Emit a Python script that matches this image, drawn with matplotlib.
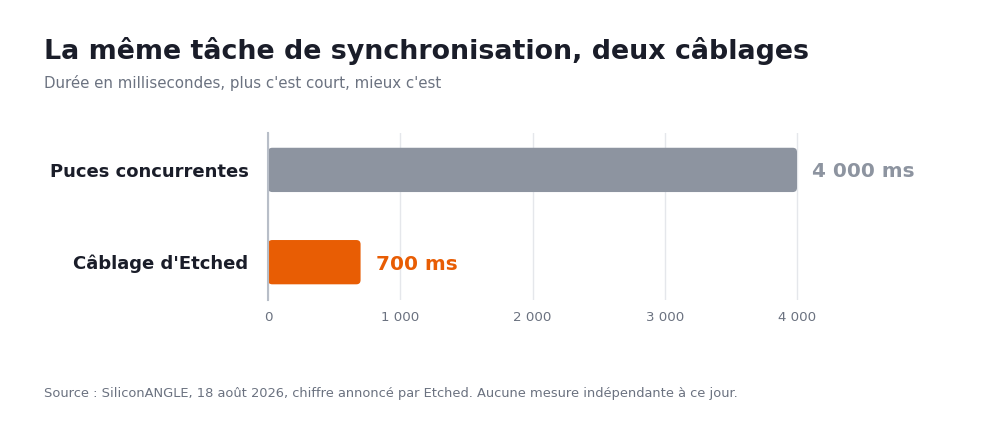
import matplotlib
matplotlib.use("Agg")
import matplotlib.pyplot as plt
from matplotlib.patches import FancyBboxPatch
from matplotlib.ticker import FuncFormatter

categories = ["Câblage d'Etched", "Puces concurrentes"]
durations_ms = [700, 4000]
bar_colors = ["#e85d04", "#8d94a0"]
value_labels = ["700 ms", "4 000 ms"]
xticks = [0, 1000, 2000, 3000, 4000]

fig = plt.figure(figsize=(10, 4.3), dpi=100)
ax = fig.add_axes([0.268, 1 - 300 / 430, 0.6348, 167 / 430])
ax.set_xlim(0, 4800)
ax.set_ylim(-0.41, 1.40)

# corner radius ~4 px, converted to data units on both axes
bar_h = 0.48
aspect = (1.81 / 167) / (4800 / 634.8)
for i, (v, c) in enumerate(zip(durations_ms, bar_colors)):
    patch = FancyBboxPatch((0, i - bar_h / 2), v, bar_h,
                           boxstyle="round,pad=0,rounding_size=32",
                           mutation_aspect=aspect,
                           facecolor=c, edgecolor="none", zorder=3)
    ax.add_patch(patch)
    ax.text(v + 115, i, value_labels[i], ha="left", va="center_baseline",
            fontsize=14.4, fontweight="bold", color=c)

ax.set_xticks(xticks)
ax.xaxis.set_major_formatter(FuncFormatter(lambda x, p: f"{int(x):,}".replace(",", " ")))
ax.set_yticks(range(len(categories)))
ax.set_yticklabels(categories, fontsize=13, fontweight="bold", color="#1a1d29")
ax.tick_params(axis="y", length=0, pad=14)
ax.tick_params(axis="x", length=0, pad=8, labelsize=9.6, labelcolor="#6b7280")
ax.grid(axis="x", color="#e5e7eb", linewidth=1, zorder=0)
for s in ["top", "right", "bottom"]:
    ax.spines[s].set_visible(False)
ax.spines["left"].set_color("#b8bec8")
ax.spines["left"].set_linewidth(1.5)
ax.spines["left"].set_zorder(4)

fig.text(0.044, 1 - 51 / 430, "La même tâche de synchronisation, deux câblages",
         fontsize=19.4, fontweight="bold", color="#1a1d29", va="center")
fig.text(0.044, 1 - 83 / 430, "Durée en millisecondes, plus c'est court, mieux c'est",
         fontsize=10.8, color="#6b7280", va="center")
fig.text(0.044, 1 - 394 / 430,
         "Source : SiliconANGLE, 18 août 2026, chiffre annoncé par Etched. Aucune mesure indépendante à ce jour.",
         fontsize=9.4, color="#6b7280", va="center")

fig.savefig("out.png", dpi=100, facecolor="white")
